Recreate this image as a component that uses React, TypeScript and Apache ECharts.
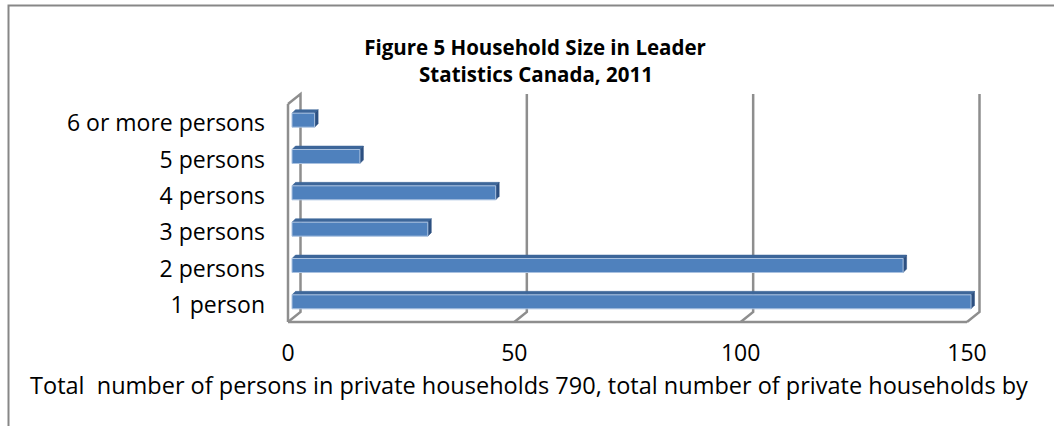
import React, { useEffect, useRef } from "react";
import * as echarts from "echarts";

const categories = ["1 person", "2 persons", "3 persons", "4 persons", "5 persons", "6 or more persons"];
const households = [150, 135, 30, 45, 15, 5];
const xTicks = [0, 50, 100, 150];
const titleLines = ["Figure 5 Household Size in Leader", "Statistics Canada, 2011"];
const axisTitle = "Total  number of persons in private households 790, total number of private households by";

const FONT = "'Open Sans', 'Noto Sans', sans-serif";
const WALL = "#8e8e8e";
const DEPTH_X = 12.5;
const DEPTH_Y = -10;

export default function App() {
  const ref = useRef<HTMLDivElement>(null);
  useEffect(() => {
    if (!ref.current) return;
    const chart = echarts.init(ref.current, null, { renderer: "svg" });

    const frameRender = (params: any, api: any) => {
      const cs = params.coordSys;
      const top = cs.y;
      const bottom = cs.y + cs.height;
      const children: any[] = [];
      const ls = { stroke: WALL, lineWidth: 2.5, fill: "none" };
      const x0 = api.coord([0, 0])[0];
      children.push({ type: "line", shape: { x1: x0, y1: top, x2: x0, y2: bottom }, style: ls });
      children.push({ type: "polyline", shape: { points: [[x0, top], [x0 + DEPTH_X, top + DEPTH_Y], [x0 + DEPTH_X, bottom + DEPTH_Y], [x0, bottom]] }, style: ls });
      const xEnd = api.coord([xTicks[xTicks.length - 1], 0])[0];
      children.push({ type: "line", shape: { x1: x0, y1: bottom, x2: xEnd, y2: bottom }, style: ls });
      xTicks.slice(1).forEach((t) => {
        const x = api.coord([t, 0])[0];
        children.push({ type: "polyline", shape: { points: [[x, bottom], [x + DEPTH_X, bottom + DEPTH_Y], [x + DEPTH_X, top + DEPTH_Y]] }, style: ls });
      });
      return { type: "group", children };
    };

    const barRender = (params: any, api: any) => {
      const v = api.value(0);
      const c = api.value(1);
      const s = api.coord([0, c]);
      const e = api.coord([v, c]);
      const ox = 4;
      const cy = s[1] - 2;
      const h = 14;
      const dx = 3.5;
      const dy = -3.5;
      const xl = s[0] + ox;
      const xr = e[0] + ox;
      const yt = cy - h / 2;
      const yb = cy + h / 2;
      return {
        type: "group",
        children: [
          { type: "polygon", shape: { points: [[xl, yt], [xr, yt], [xr + dx, yt + dy], [xl + dx, yt + dy]] }, style: { fill: "#3d6699", stroke: "#3d6699", lineWidth: 0.5 } },
          { type: "polygon", shape: { points: [[xr, yt], [xr + dx, yt + dy], [xr + dx, yb + dy], [xr, yb]] }, style: { fill: "#2d5081", stroke: "#2d5081", lineWidth: 0.5 } },
          { type: "rect", shape: { x: xl, y: yt, width: xr - xl, height: h }, style: { fill: "#4f81bd", stroke: "#a9c1e0", lineWidth: 1 } },
        ],
      };
    };

    const titleStyle = { align: "center", verticalAlign: "middle", fontSize: 20.5, fontWeight: "bold", fontFamily: FONT, fill: "#000", lineHeight: 24 };

    chart.setOption({
      animation: false,
      backgroundColor: "#ffffff",
      grid: { left: 288, right: 87, top: 104, bottom: 104, containLabel: false },
      xAxis: {
        type: "value",
        min: 0,
        max: 150,
        interval: 50,
        axisLine: { show: false },
        axisTick: { show: false },
        splitLine: { show: false },
        axisLabel: { fontSize: 23, color: "#000", fontFamily: FONT, margin: 18 },
      },
      yAxis: {
        type: "category",
        data: categories,
        axisLine: { show: false },
        axisTick: { show: false },
        splitLine: { show: false },
        axisLabel: { fontSize: 23, color: "#000", fontFamily: FONT, margin: 23 },
      },
      graphic: [
        { type: "rect", left: 6, top: 3, shape: { width: 1070, height: 440 }, style: { fill: "none", stroke: "#878787", lineWidth: 2 }, z: -1 },
        { type: "text", x: 535, y: 47, style: { ...titleStyle, text: titleLines[0] } },
        { type: "text", x: 536, y: 74, style: { ...titleStyle, text: titleLines[1] } },
        { type: "text", x: 529, y: 385, style: { text: axisTitle, align: "center", verticalAlign: "middle", fontSize: 23.5, fontFamily: FONT, fill: "#000" } },
      ],
      series: [
        { type: "custom", name: "frame", renderItem: frameRender, data: [[0, 0]], encode: { x: 0, y: 1 }, z: 1, silent: true },
        { type: "custom", name: "Households", renderItem: barRender, data: households.map((v, i) => [v, i]), encode: { x: 0, y: 1 }, z: 2 },
      ],
    });
    return () => chart.dispose();
  }, []);
  return <div ref={ref} style={{ position: "fixed", left: 0, top: 0, width: 1054, height: 426 }} />;
}
